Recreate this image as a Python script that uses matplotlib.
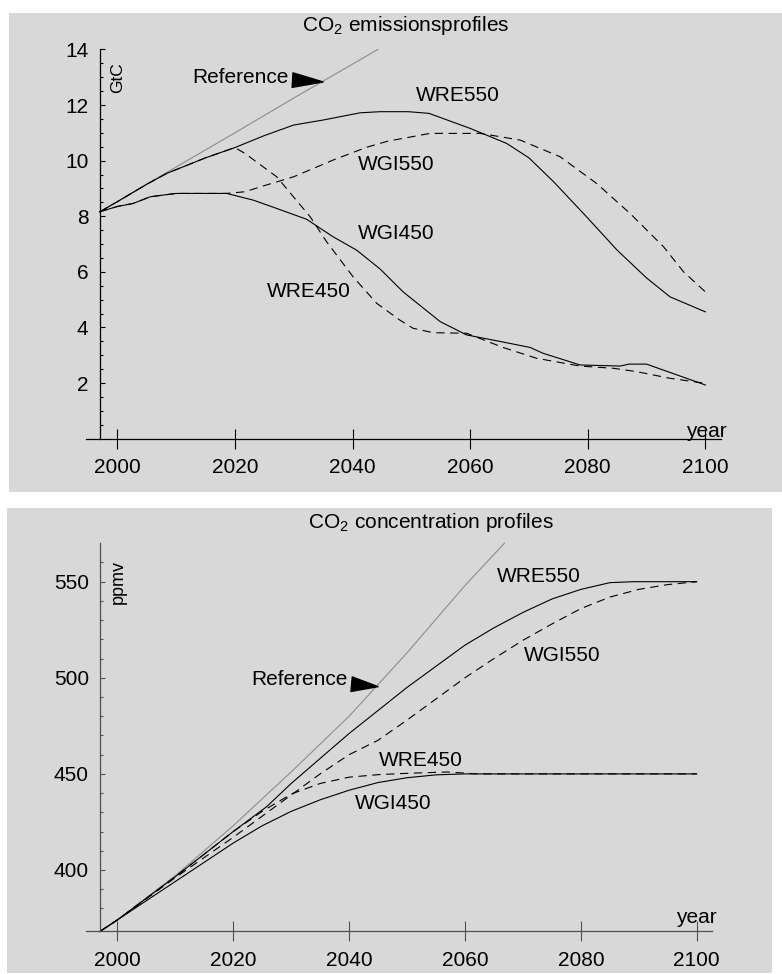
import matplotlib
matplotlib.use('Agg')
import matplotlib.pyplot as plt
import numpy as np

plt.rcParams['font.family'] = ['Liberation Sans', 'DejaVu Sans']
plt.rcParams['mathtext.fontset'] = 'custom'
plt.rcParams['mathtext.rm'] = 'Liberation Sans'
plt.rcParams['lines.scale_dashes'] = False

############ emissions (GtC) ############
ref_em_yr = [1997, 2000, 2010, 2020, 2030, 2040, 2044.3]
ref_em = [8.16, 8.53, 9.77, 11.0, 12.25, 13.47, 14.0]

wre550_em_yr = [1997, 2000, 2005, 2008.4, 2015, 2020, 2025, 2030, 2035, 2041.3, 2044.7, 2049.5,
                2053, 2060, 2066.2, 2070, 2074.2, 2079.8, 2085, 2090, 2094, 2100]
wre550_em = [8.16, 8.52, 9.15, 9.54, 10.1, 10.47, 10.9, 11.28, 11.46, 11.72, 11.76, 11.76,
             11.7, 11.16, 10.62, 10.1, 9.24, 7.98, 6.78, 5.78, 5.10, 4.56]

wgi550_em_yr = [1997, 2000, 2002.7, 2005.6, 2010, 2018.6, 2021.7, 2025, 2030, 2036.7, 2042.4,
                2046, 2053.2, 2061.7, 2068.5, 2075.3, 2081.5, 2087.2, 2092.9, 2096.3, 2100]
wgi550_em = [8.16, 8.35, 8.46, 8.70, 8.82, 8.82, 8.88, 9.1, 9.42, 10.02, 10.48,
             10.7, 10.98, 10.98, 10.74, 10.14, 9.18, 8.10, 6.90, 6.00, 5.28]

wgi450_em_yr = [1997, 2000, 2002.7, 2005.6, 2010, 2018.6, 2023.1, 2027.1, 2032.2, 2036.7, 2040.7,
                2044.7, 2048.6, 2054.9, 2059.4, 2065, 2070.2, 2072.4, 2078.7, 2085.5, 2087, 2090, 2100]
wgi450_em = [8.16, 8.35, 8.46, 8.70, 8.82, 8.82, 8.58, 8.28, 7.89, 7.26, 6.78,
             6.1, 5.28, 4.21, 3.73, 3.5, 3.28, 3.07, 2.65, 2.61, 2.68, 2.68, 1.93]

wre450_em_yr = [1997, 2000, 2005, 2008.4, 2015, 2020, 2021.7, 2027.1, 2032.8, 2035.6, 2040.1,
                2044.1, 2048, 2050.3, 2053.7, 2059.4, 2065.6, 2071.3, 2078.7, 2084.4, 2088.3, 2094, 2100]
wre450_em = [8.16, 8.52, 9.15, 9.54, 10.1, 10.47, 10.26, 9.42, 7.98, 7.08, 5.82,
             4.87, 4.27, 3.97, 3.81, 3.79, 3.28, 2.89, 2.61, 2.53, 2.41, 2.17, 1.99]

############ concentrations (ppmv) ############
ref_co_yr = [1997, 2000, 2010, 2020, 2030, 2040, 2050, 2060, 2066.8]
ref_co = [368, 374, 397, 423, 451, 480, 513, 548, 570]

wre550_co_yr = [1997, 2000, 2010, 2020, 2025.8, 2030, 2037.3, 2040, 2045, 2050, 2055, 2060,
                2065, 2070, 2075, 2080, 2085, 2089, 2100]
wre550_co = [368, 374, 396.5, 420, 433, 445, 464, 471, 483, 495, 506, 517,
             526, 534, 541, 546, 549.5, 550, 550]

wgi550_co_yr = [1997, 2000, 2010, 2020, 2025, 2030, 2035, 2040, 2045, 2050, 2055, 2060,
                2065, 2070, 2075, 2080, 2085, 2090, 2095, 2100]
wgi550_co = [368, 374, 396, 417, 428, 439, 450, 460, 467.5, 478, 489, 500,
             510, 519.5, 528, 536, 542, 546, 548.5, 550]

wre450_co_yr = [1997, 2000, 2010, 2020, 2025, 2030, 2035, 2040, 2045, 2050, 2057, 2062, 2100]
wre450_co = [368, 374, 396.5, 420, 430.5, 439.5, 445, 448.3, 449.6, 450.3, 451, 450, 450]

wgi450_co_yr = [1997, 2000, 2010, 2015, 2020, 2025, 2030, 2035, 2040, 2045, 2050, 2055, 2060, 2100]
wgi450_co = [368, 374, 394, 404, 414, 423, 430.5, 436.5, 441.5, 445.5, 448, 449.5, 450, 450]

xticks = [2000, 2020, 2040, 2060, 2080, 2100]

bg = '#d8d8d8'
refc = '#8c8c8c'
dash = (0, (6, 4))

fig = plt.figure(figsize=(7.82, 9.74), dpi=100)
ax1 = fig.add_axes([9/782, 1-492/974, 773/782, 479/974])
ax2 = fig.add_axes([7/782, 1-973/974, 765/782, 465/974])

def style_axes(ax, x0, y0, ybounds, xbounds, yticks, yminor, acol):
    ax.set_facecolor(bg)
    ax.spines['top'].set_visible(False)
    ax.spines['right'].set_visible(False)
    ax.spines['left'].set_position(('data', x0))
    ax.spines['bottom'].set_position(('data', y0))
    ax.spines['left'].set_bounds(*ybounds)
    ax.spines['bottom'].set_bounds(*xbounds)
    for s in ['left', 'bottom']:
        ax.spines[s].set_color(acol)
        ax.spines[s].set_linewidth(0.9)
    ax.set_xticks(xticks)
    ax.set_yticks(yticks)
    ax.set_yticks(yminor, minor=True)
    ax.tick_params(axis='x', direction='inout', length=14.4, width=0.8, pad=7,
                   labelsize=15, color=acol)
    ax.tick_params(axis='y', which='major', direction='in', length=3.6, width=0.8,
                   pad=8, labelsize=15, color=acol)
    ax.tick_params(axis='y', which='minor', direction='in', length=2.2, width=0.8, color=acol)

# ---- top panel
ax1.set_xlim(1981.58, 2113.04)
ax1.set_ylim(-1.92, 15.31)
style_axes(ax1, 1997, 0, (0, 14), (1994.7, 2102.6), [2, 4, 6, 8, 10, 12, 14],
           np.arange(0.5, 14, 0.5), 'black')
ax1.plot(ref_em_yr, ref_em, color=refc, lw=0.8)
ax1.plot(wre550_em_yr, wre550_em, color='black', lw=0.8)
ax1.plot(wgi550_em_yr, wgi550_em, color='black', lw=0.8, ls=dash)
ax1.plot(wgi450_em_yr, wgi450_em, color='black', lw=0.8)
ax1.plot(wre450_em_yr, wre450_em, color='black', lw=0.8, ls=dash)

ax1.text(0.5136, 0.9614, 'CO$_2$ emissionsprofiles', transform=ax1.transAxes,
         ha='center', va='baseline', fontsize=15)
ax1.text(2000.1, 13.0, 'GtC', rotation=90, ha='center', va='center', fontsize=12.5)
ax1.text(2100.1, 0.05, 'year', ha='center', va='baseline', fontsize=15)
ax1.text(2057.9, 12.13, 'WRE550', ha='center', va='baseline', fontsize=15)
ax1.text(2047.4, 9.68, 'WGI550', ha='center', va='baseline', fontsize=15)
ax1.text(2047.4, 7.17, 'WGI450', ha='center', va='baseline', fontsize=15)
ax1.text(2032.5, 5.09, 'WRE450', ha='center', va='baseline', fontsize=15)
ax1.annotate('Reference', xy=(2035.0, 12.83), xytext=(2020.9, 12.81),
             ha='center', va='baseline', fontsize=15,
             arrowprops=dict(arrowstyle='wedge,tail_width=0.7,shrink_factor=0.5',
                             color='black', shrinkA=1, shrinkB=0))

# ---- bottom panel
ax2.set_xlim(1980.96, 2112.99)
ax2.set_ylim(346.4, 588.35)
style_axes(ax2, 1997, 368, (368, 570), (1994.55, 2102.6), [400, 450, 500, 550],
           np.arange(380, 561, 10), '#505050')
ax2.plot(ref_co_yr, ref_co, color=refc, lw=0.8)
ax2.plot(wre550_co_yr, wre550_co, color='black', lw=0.8)
ax2.plot(wgi550_co_yr, wgi550_co, color='black', lw=0.8, ls=dash)
ax2.plot(wre450_co_yr, wre450_co, color='black', lw=0.8, ls=dash)
ax2.plot(wgi450_co_yr, wgi450_co, color='black', lw=0.8)

ax2.text(0.554, 0.956, 'CO$_2$ concentration profiles', transform=ax2.transAxes,
         ha='center', va='baseline', fontsize=15)
ax2.text(2000.1, 549.6, 'ppmv', rotation=90, ha='center', va='center', fontsize=13)
ax2.text(2100.0, 372.6, 'year', ha='center', va='baseline', fontsize=15)
ax2.text(2072.7, 549.6, 'WRE550', ha='center', va='baseline', fontsize=15)
ax2.text(2076.7, 508.8, 'WGI550', ha='center', va='baseline', fontsize=15)
ax2.text(2052.4, 454.2, 'WRE450', ha='center', va='baseline', fontsize=15)
ax2.text(2047.6, 431.6, 'WGI450', ha='center', va='baseline', fontsize=15)
ax2.annotate('Reference', xy=(2045.0, 495.4), xytext=(2031.4, 496.3),
             ha='center', va='baseline', fontsize=15,
             arrowprops=dict(arrowstyle='wedge,tail_width=0.7,shrink_factor=0.5',
                             color='black', shrinkA=1, shrinkB=0))

fig.savefig('out.png', dpi=100)
